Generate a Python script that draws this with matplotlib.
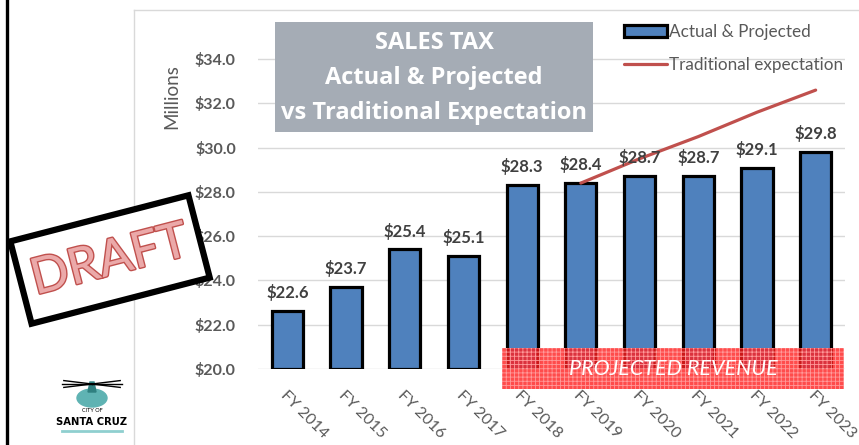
import matplotlib.pyplot as plt
import matplotlib.patheffects as pe
from matplotlib.patches import Rectangle, Ellipse, Polygon
from matplotlib.lines import Line2D
from matplotlib.transforms import Affine2D, IdentityTransform
import numpy as np

# chart data
years = ['FY 2014', 'FY 2015', 'FY 2016', 'FY 2017', 'FY 2018',
         'FY 2019', 'FY 2020', 'FY 2021', 'FY 2022', 'FY 2023']
sales_tax = [22.6, 23.7, 25.4, 25.1, 28.3, 28.4, 28.7, 28.7, 29.1, 29.8]
trad_years = ['FY 2019', 'FY 2020', 'FY 2021', 'FY 2022', 'FY 2023']
trad_expect = [28.4, 29.5, 30.5, 31.6, 32.6]
projected_from = 'FY 2018'
y_ticks = [20, 22, 24, 26, 28, 30, 32, 34]

plt.rcParams['font.family'] = ['Lato', 'DejaVu Sans']
plt.rcParams['hatch.linewidth'] = 0.6

W, H = 859, 445
fig = plt.figure(figsize=(W / 100, H / 100), dpi=100)


def fx(px):
    return px / W


def fy(py):
    return 1 - py / H


# background frame lines
fig.add_artist(Line2D([fx(134), fx(134)], [fy(10), 0], color='#D9D9D9', lw=1,
                      transform=fig.transFigure))
fig.add_artist(Line2D([fx(134), 1], [fy(10), fy(10)], color='#D9D9D9', lw=1,
                      transform=fig.transFigure))
fig.add_artist(Line2D([fx(7), fx(7)], [0, 1], color='black', lw=2.4,
                      transform=fig.transFigure))

ax = fig.add_axes([fx(258), fy(369), fx(845) - fx(258), fy(37) - fy(369)])
x = np.arange(len(years))
base = y_ticks[0]
bars = ax.bar(x, np.array(sales_tax) - base, bottom=base, width=0.53, color='#4F81BD',
              edgecolor='black', linewidth=2.3, label='Actual & Projected', zorder=3)
tx = [years.index(y) for y in trad_years]
line, = ax.plot(tx, trad_expect, color='#C0504D', lw=2.3, label='Traditional expectation',
                zorder=4, solid_capstyle='round')

for i, v in zip(x, sales_tax):
    ax.text(i, v + 0.45, f'${v:.1f}', ha='center', va='bottom', fontsize=12,
            fontweight='bold', color='#404040', zorder=5)

ax.set_xlim(-0.5, len(years) - 0.5)
ax.set_ylim(base, 35)
ax.set_yticks(y_ticks)
ax.set_yticklabels([f'${v:.1f}' for v in y_ticks], fontsize=11.5, fontweight='bold',
                   color='#595959')
ax.set_xticks(x)
ax.set_xticklabels(years, rotation=-45, ha='left', va='top', rotation_mode='anchor',
                   fontsize=11.5, color='#595959')
ax.tick_params(axis='both', length=0)
ax.tick_params(axis='y', pad=16)
ax.tick_params(axis='x', pad=14)
ax.grid(axis='y', color='#D9D9D9', lw=1, zorder=0)
ax.set_axisbelow(True)
for s in ax.spines.values():
    s.set_visible(False)

fig.text(fx(172), fy(97), 'Millions', rotation=90, ha='center', va='center',
         fontsize=13.5, color='#595959')

ax.legend(handles=[bars, line], loc='upper left', bbox_to_anchor=(fx(609), fy(9)),
          bbox_transform=fig.transFigure, frameon=False, fontsize=12.3, labelcolor='#595959',
          handlelength=2.5, handletextpad=0.1, labelspacing=0.95)

# projected revenue band
p0 = years.index(projected_from)
band_left = p0 - 0.34
band_right = len(years) - 0.52
band = Rectangle((band_left, 19.1), band_right - band_left, 1.85,
                 facecolor=(1, 0.12, 0.12, 0.8), edgecolor='#FF9A9A', hatch='++++',
                 lw=0, clip_on=False, zorder=6)
ax.add_patch(band)
ax.text((band_left + band_right) / 2, 20.0, 'PROJECTED REVENUE',
        ha='center', va='center', fontsize=15.5, style='italic', color='white', zorder=7,
        clip_on=False)

# title box
fig.add_artist(Rectangle((fx(275), fy(132)), fx(593) - fx(275), fy(22) - fy(132),
                         facecolor='#A5ACB5', edgecolor='none', transform=fig.transFigure,
                         zorder=8))
for txt, py in zip(['SALES TAX', 'Actual & Projected', 'vs Traditional Expectation'],
                   [43, 78, 113]):
    fig.text(fx(434), fy(py), txt, ha='center', va='center', fontsize=17,
             fontweight='bold', color='white', zorder=9, family=['Open Sans', 'DejaVu Sans'])

# DRAFT stamp
cx, cy = 110, H - 259.5
stamp = Rectangle((cx - 92, cy - 42.5), 184, 85, facecolor='white', edgecolor='black',
                  lw=4.5, transform=Affine2D().rotate_deg_around(cx, cy, 14.5) + IdentityTransform(),
                  zorder=10)
fig.add_artist(stamp)
fig.text(fx(110), fy(261), 'DRAFT', rotation=14.5, rotation_mode='anchor', ha='center',
         va='center', fontsize=36, color='#EBA9A9', zorder=11,
         path_effects=[pe.withStroke(linewidth=2, foreground='#C0504D')])

# simple city logo
fig.add_artist(Ellipse((fx(92), fy(398)), fx(30), fy(0) - fy(18), color='#5FB3B3',
                       transform=fig.transFigure, zorder=10))
fig.add_artist(Polygon([(fx(88), fy(392)), (fx(96), fy(392)), (fx(94), fy(382)), (fx(90), fy(382))],
                       closed=True, color='#2F8080', transform=fig.transFigure, zorder=11))
for ang in [-20, 0, 20, 160, 180, 200]:
    a = np.deg2rad(ang)
    fig.add_artist(Line2D([fx(92), fx(92 + 30 * np.cos(a))], [fy(384), fy(384 - 10 * np.sin(a))],
                          color='black', lw=1, transform=fig.transFigure, zorder=11))
fig.text(fx(92), fy(411), 'CITY OF', ha='center', va='center', fontsize=4, color='black')
fig.text(fx(92), fy(422), 'SANTA CRUZ', ha='center', va='center', fontsize=8,
         fontweight='black', color='black', family=['DejaVu Sans'], stretch='condensed')
fig.add_artist(Line2D([fx(62), fx(122)], [fy(431), fy(431)], color='#8FCFCF', lw=2,
                      transform=fig.transFigure))

fig.savefig('out.png', dpi=100)
